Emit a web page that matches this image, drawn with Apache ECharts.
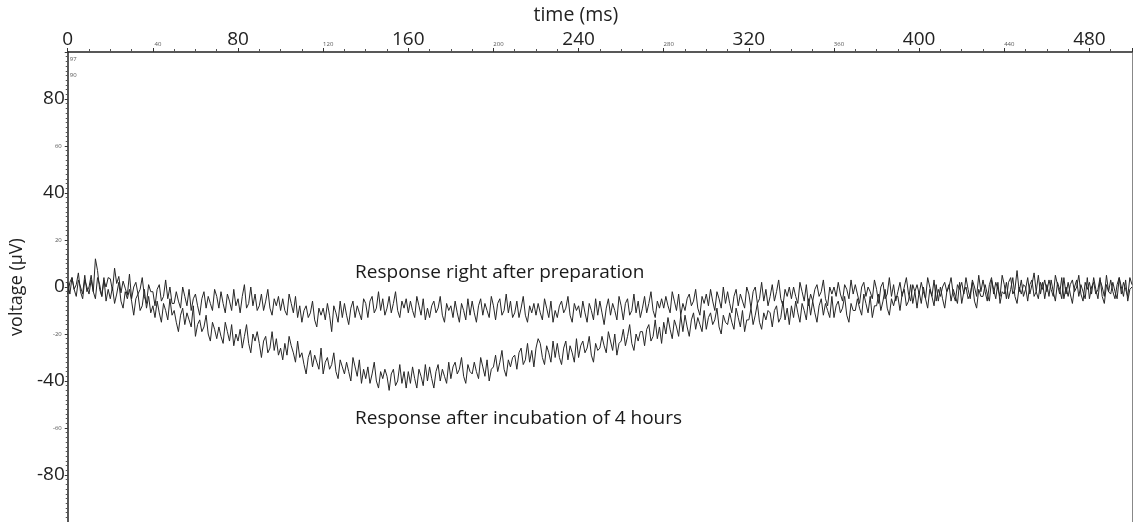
<!DOCTYPE html>
<html>
<head>
<meta charset="utf-8">
<script src="https://cdn.jsdelivr.net/npm/echarts@6/dist/echarts.min.js"></script>
<style>
html,body{margin:0;padding:0;background:#fff;}
#chart{width:1135px;height:522px;}
</style>
</head>
<body>
<div id="chart"></div>
<script>
// sampling step of the recorded traces (ms)
const sampleStepMs = 1;

// Response right after preparation (µV), one value per ms from 0 to 500 ms
const prepValues = [
  2, -3, 4, -1, -4, 3, 0, -3, 5, -2,
  0, 5, -2, 12, 7, -1, -4, 3, 0, 4,
  3.5, -1.5, 8, 1.5, 4.5, -2.5, 2.5, -0.5, -3.5, 5.5,
  -5, 0, 2, -3, -1, 4, -4, -7, 1, -2,
  -2, -8, -1, 1, -6, -4, 3, -5, 0, -7,
  -7, -2, -6, -9, 0, -4, -8, -1, -10, -5,
  -3, -8, -12, -5, -2, -9, -4, -7, -10, -1,
  -4, -9, -2, -7, -11, -3, -6, -10, -1, -8,
  -5, -11, -4, 1, -9, -7, 0, -8, -3, -10,
  -8, -3, -10, -6, -1, -9, -12, -5, -8, -4,
  -10, -5, -10, -12, -3, -7, -11, -4, -13, -8,
  -15, -10, -8, -13, -11, -6, -14, -17, -9, -12,
  -9, -14, -7, -12, -19, -8, -11, -15, -6, -13,
  -7, -12, -16, -9, -6, -13, -8, -11, -14, -5,
  -7, -13, -6, -4, -11, -9, -2, -10, -5, -12,
  -9, -4, -11, -7, -2, -10, -13, -6, -9, -5,
  -11, -6, -10, -13, -4, -8, -12, -5, -14, -9,
  -13, -8, -6, -11, -9, -4, -12, -15, -7, -10,
  -8, -13, -6, -11, -15, -7, -10, -14, -5, -12,
  -6, -11, -15, -8, -5, -12, -7, -10, -13, -4,
  -8, -14, -7, -5, -12, -10, -3, -11, -6, -13,
  -11, -6, -13, -9, -4, -12, -15, -8, -11, -7,
  -12, -7, -11, -14, -5, -9, -13, -6, -15, -10,
  -13, -8, -6, -11, -9, -4, -12, -15, -7, -10,
  -8, -13, -6, -11, -15, -7, -10, -14, -5, -12,
  -6, -11, -16, -9, -5, -12, -7, -10, -14, -4,
  -8, -14, -7, -5, -12, -10, -3, -11, -6, -13,
  -9, -4, -11, -7, -2, -10, -13, -6, -9, -5,
  -9, -4, -8, -11, -2, -6, -10, -3, -12, -7,
  -10, -5, -3, -8, -6, -1, -9, -12, -4, -7,
  -3, -8, -1, -6, -10, -2, -5, -9, 0, -7,
  -2, -7, -11, -4, -1, -8, -3, -6, -9, 0,
  -3, -9, -2, 0, -7, -5, 2, -6, -1, -8,
  -4, 1, -6, -2, 3, -5, -8, -1, -4, 0,
  -5, 0, -4, -7, 2, -2, -6, 1, -8, -3,
  -6, -1, 1, -4, -2, 3, -5, -8, 0, -3,
  0, -4, 2, -3, -6, 1, -1, -5, 3, -3,
  1, -3, -7, 0, 2, -4, 0, -2, -5, 3,
  -1, -7, 0, 2, -5, -3, 4, -4, 1, -6,
  -2, 2, -4, 0, 4, -3, -6, 1, -2, 1,
  -3, 2, -2, -5, 4, 0, -4, 3, -6, -1,
  -4, 0, 2, -2, 0, 4, -3, -6, 1, -1,
  2, -3, 4, -1, -5, 3, 0, -4, 5, -2,
  3, -2, -6, 1, 4, -3, 2, -1, -4, 5,
  1, -5, 2, 4, -3, -1, 7, -2, 3, -4,
  -1, 4, -3, 1, 6, -2, -5, 2, -1, 3,
  -2, 3, -1, -4, 5, 1, -3, 4, -5, 0,
  -4, 1, 3, -2, 0, 5, -3, -6, 2, -1,
  2, -3, 4, -1, -5, 3, 0, -4, 5, -2,
  3, -2, -5, 1, 4, -3, 2, -1, -4, 4,
  1
];

// Response after incubation of 4 hours (µV), one value per ms from 0 to 500 ms
const incubValues = [
  -3, 2, 4, -1, 1, 6, -2, -5, 3, 0,
  -3, 3, -2, -5, 4, 1, -4, 4, -6, -1,
  -5, 0, -7, -3, 2, -6, -9, -2, -5, -1,
  -6, -12, -5, -3, -10, -8, -1, -9, -4, -11,
  -8, -13, -6, -11, -15, -7, -10, -14, -5, -12,
  -10, -15, -19, -12, -9, -16, -11, -14, -17, -8,
  -21, -16, -14, -19, -17, -12, -20, -23, -15, -18,
  -22, -17, -21, -24, -15, -19, -23, -16, -25, -20,
  -23, -18, -26, -21, -16, -24, -28, -20, -23, -19,
  -24, -30, -23, -21, -28, -26, -19, -27, -22, -29,
  -26, -31, -24, -29, -21, -25, -28, -32, -23, -30,
  -28, -33, -37, -30, -27, -34, -29, -32, -35, -26,
  -37, -32, -30, -35, -33, -28, -36, -39, -31, -34,
  -37, -32, -36, -40, -30, -34, -38, -31, -41, -35,
  -39, -34, -41, -37, -32, -40, -43, -36, -39, -35,
  -38, -44, -37, -35, -42, -40, -33, -41, -36, -43,
  -36, -41, -34, -39, -43, -35, -38, -42, -33, -40,
  -34, -39, -43, -36, -33, -40, -35, -38, -41, -32,
  -39, -34, -32, -37, -35, -30, -38, -41, -33, -36,
  -37, -32, -36, -39, -30, -34, -38, -31, -40, -35,
  -34, -29, -36, -32, -27, -35, -38, -31, -34, -30,
  -29, -35, -28, -26, -33, -31, -24, -32, -27, -34,
  -26, -22, -24, -30, -33, -25, -28, -32, -23, -30,
  -24, -30, -33, -26, -23, -31, -25, -28, -32, -22,
  -30, -25, -23, -28, -26, -21, -29, -32, -24, -27,
  -26, -21, -25, -28, -19, -23, -27, -20, -29, -24,
  -23, -18, -25, -21, -16, -24, -27, -20, -23, -19,
  -19, -25, -18, -16, -23, -21, -14, -22, -17, -24,
  -15, -20, -13, -18, -22, -14, -17, -21, -12, -19,
  -12, -17, -21, -14, -11, -18, -13, -16, -19, -10,
  -18, -13, -11, -16, -14, -9, -17, -20, -12, -15,
  -16, -11, -15, -18, -9, -13, -17, -10, -19, -14,
  -14, -9, -16, -12, -7, -15, -18, -11, -14, -10,
  -11, -17, -10, -8, -15, -13, -6, -14, -9, -16,
  -8, -13, -6, -11, -15, -7, -10, -14, -5, -12,
  -6, -11, -15, -8, -5, -12, -7, -10, -13, -4,
  -13, -8, -6, -11, -9, -4, -12, -15, -7, -10,
  -10, -5, -9, -12, -3, -7, -11, -4, -13, -8,
  -8, -3, -10, -6, -1, -9, -12, -5, -8, -4,
  -4, -10, -3, -1, -8, -6, 1, -7, -2, -9,
  -2, -7, 0, -5, -9, -1, -4, -8, 1, -6,
  0, -5, -9, -2, 1, -6, -1, -4, -7, 2,
  -7, -2, 0, -5, -3, 2, -6, -9, -1, -4,
  -4, 1, -3, -6, 3, -1, -5, 2, -7, -2,
  -3, 2, -5, -1, 4, -4, -7, 0, -3, 1,
  0, -6, 1, 3, -4, -2, 5, -3, 2, -5,
  1, -4, 3, -2, -6, 2, -1, -5, 4, -3,
  2, -3, -7, 0, 3, -4, 1, -2, -5, 4,
  -5, 0, 2, -3, -1, 4, -4, -7, 1, -2,
  -3, 2, -2, -5, 4, 0, -4, 3, -6, -1,
  0
];

// axis ticks / labels
const xMajorLabels = [0, 80, 160, 240, 320, 400, 480];
const yMajorLabels = [80, 40, 0, -40, -80];
const yTinyInsideLabels = [97, 90];

// annotations: [time ms, voltage µV, text]
const annotations = [
  [135, 6.3, 'Response right after preparation'],
  [135, -56, 'Response after incubation of 4 hours']
];

const toPairs = vals => vals.map((v, i) => [i * sampleStepMs, v]);

const FONT = '"Open Sans", "Noto Sans", sans-serif';
const chart = echarts.init(document.getElementById('chart'), null, {renderer: 'canvas'});

chart.setOption({
  animation: false,
  backgroundColor: '#fff',
  textStyle: {fontFamily: FONT},
  grid: {left: 65, right: 2, top: 50, bottom: -3, containLabel: false},
  xAxis: {
    type: 'value', position: 'top', min: 0, max: 500, interval: 40,
    name: 'time (ms)', nameLocation: 'middle', nameGap: 27,
    nameTextStyle: {fontSize: 19.5, color: '#222', fontFamily: FONT, padding: [0, 48, 0, 0]},
    axisLine: {show: true, onZero: false, lineStyle: {color: '#222', width: 1.5}},
    axisTick: {show: true, length: 4, lineStyle: {color: '#333'}},
    minorTick: {show: true, splitNumber: 4, length: 3, lineStyle: {color: '#555'}},
    splitLine: {show: false},
    axisLabel: {
      margin: 3, color: '#222', fontFamily: FONT,
      formatter: v => xMajorLabels.includes(v) ? '{big|' + v + '}' : (v >= 500 ? '' : '{small|' + v + '}'),
      rich: {
        big: {fontSize: 19, color: '#222', fontFamily: FONT},
        small: {fontSize: 6, color: '#555', fontFamily: FONT, padding: [0, 0, 2, 10]}
      }
    }
  },
  yAxis: [{
    type: 'value', min: -100, max: 100, interval: 20,
    name: 'voltage (µV)', nameLocation: 'middle', nameGap: 36, nameRotate: 90,
    nameTextStyle: {fontSize: 18, color: '#222', fontFamily: FONT},
    axisLine: {show: true, onZero: false, lineStyle: {color: '#222', width: 1.5}},
    axisTick: {show: true, length: 3, lineStyle: {color: '#333'}},
    minorTick: {show: true, splitNumber: 10, length: 2, lineStyle: {color: '#555'}},
    splitLine: {show: false},
    axisLabel: {
      margin: 3, color: '#222', fontFamily: FONT,
      formatter: v => Math.abs(v) >= 100 ? '' : (yMajorLabels.includes(v) ? '{big|' + v + '}' : '{small|' + v + '}'),
      rich: {
        big: {fontSize: 19, color: '#222', fontFamily: FONT},
        small: {fontSize: 6, color: '#555', fontFamily: FONT, padding: [0, 3, 0, 0]}
      }
    }
  }, {
    type: 'value', min: -100, max: 100, position: 'left', interval: 20,
    axisLine: {show: false}, axisTick: {show: false}, splitLine: {show: false},
    axisLabel: {
      inside: true, margin: 2, fontSize: 6, color: '#555', fontFamily: FONT,
      customValues: yTinyInsideLabels
    }
  }, {
    type: 'value', min: -100, max: 100, position: 'right', interval: 20,
    axisLine: {show: true, onZero: false, lineStyle: {color: '#888', width: 1}},
    axisTick: {show: false}, axisLabel: {show: false}, splitLine: {show: false}
  }],
  series: [{
    type: 'line', name: 'prep', data: toPairs(prepValues), showSymbol: false,
    lineStyle: {color: '#262626', width: 1}, z: 3
  }, {
    type: 'line', name: 'incub', data: toPairs(incubValues), showSymbol: false,
    lineStyle: {color: '#262626', width: 1}, z: 3
  }, {
    type: 'scatter', data: annotations.map(a => ({value: [a[0], a[1]], text: a[2]})),
    symbolSize: 0, silent: true, itemStyle: {opacity: 1},
    label: {
      show: true, position: 'right', distance: 0, fontSize: 19, color: '#1a1a1a', fontFamily: FONT,
      opacity: 1, formatter: p => p.data.text
    }
  }]
});
</script>
</body>
</html>
